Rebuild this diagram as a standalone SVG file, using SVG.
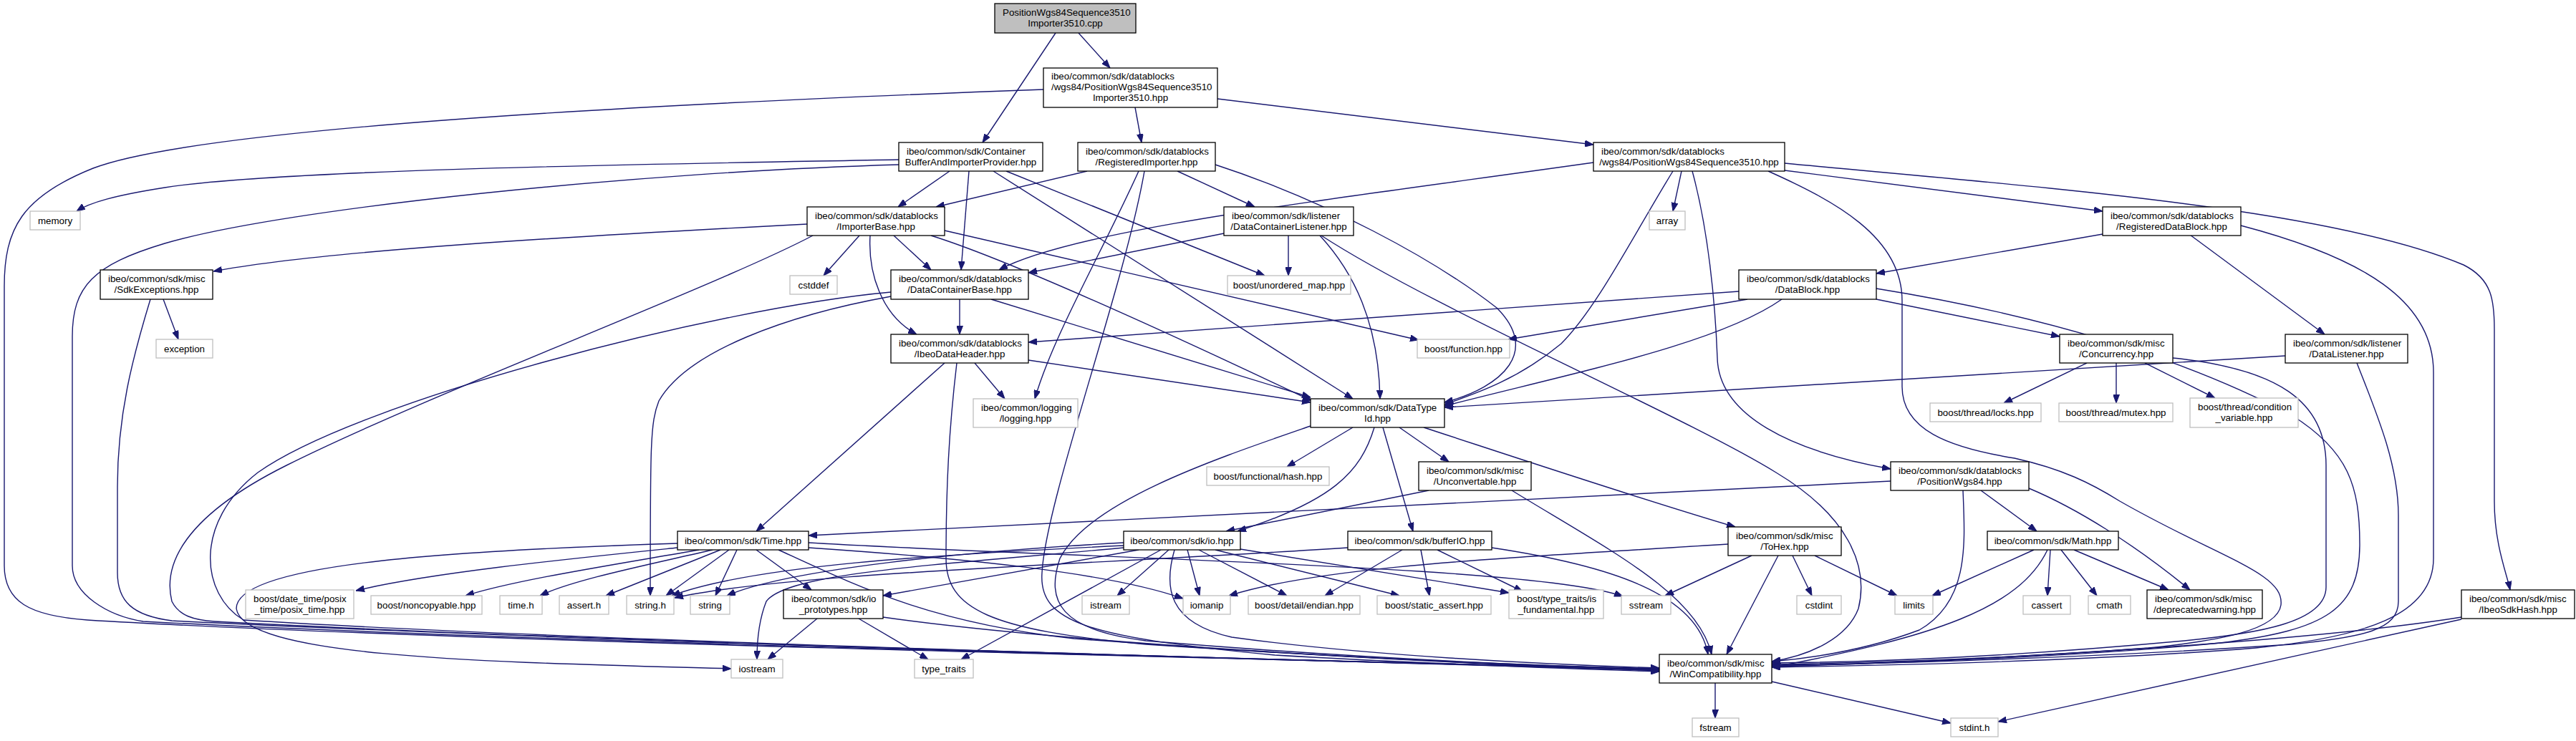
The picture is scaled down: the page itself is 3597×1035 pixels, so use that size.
<svg xmlns="http://www.w3.org/2000/svg" width="3597" height="1035" viewBox="0 0 3597 1035">
<defs>
<style>
rect{fill:#fff;stroke:#000;stroke-width:1.3}
.g rect{stroke:#bfbfbf}
.r rect{fill:#bfbfbf}
text{font-family:"Liberation Sans",Arial,Helvetica,sans-serif;font-size:13.33px;fill:#000}
.c{text-anchor:middle}
#edges path{fill:none;stroke:#191970;stroke-width:1.4;marker-end:url(#a)}
</style>
<marker id="a" markerWidth="12" markerHeight="9" refX="12" refY="4.5" orient="auto" markerUnits="userSpaceOnUse"><path d="M0,0 L12,4.5 L0,9 z" fill="#191970" stroke="#191970" stroke-width="1"/></marker>
</defs>
<rect x="0" y="0" width="3597" height="1035" style="fill:#fff;stroke:none"/>
<g id="edges">
<path d="M1506,46 L1550,95"/>
<path d="M1474,46 L1372,199"/>
<path d="M1457,125 C1100,138 300,170 130,235 C30,275 6,320 6,400 L6,790 C6,840 40,860 122,866 C600,895 1800,922 2317,934"/>
<path d="M1585,150 L1594,199"/>
<path d="M1700,138 L2225,202"/>
<path d="M1255,223 C1000,228 400,235 230,262 C160,273 125,283 107,295"/>
<path d="M1255,230 C900,240 400,290 230,340 C130,370 101,400 101,470 L101,790 C101,830 150,860 200,868 C700,895 1800,922 2317,935"/>
<path d="M1326,239 L1254,289"/>
<path d="M1353,239 L1342,377"/>
<path d="M1387,239 L1889,557"/>
<path d="M1405,239 L1766,385"/>
<path d="M1518,239 L1307,289"/>
<path d="M1644,239 L1752,289"/>
<path d="M1590,239 C1540,350 1470,470 1445,557"/>
<path d="M1598,239 C1570,400 1460,700 1455,800 C1450,870 1520,890 1780,915 C2000,928 2200,934 2317,938"/>
<path d="M1697,230 C1850,280 2000,360 2090,430 C2150,490 2100,540 2017,562"/>
<path d="M2492,238 L2936,295"/>
<path d="M2225,227 C1850,280 1500,320 1395,377"/>
<path d="M2348,239 L2336,295"/>
<path d="M2336,239 C2280,330 2230,430 2180,480 C2120,530 2060,550 2017,565"/>
<path d="M2363,239 C2385,320 2395,420 2398,500 C2400,580 2500,630 2640,655"/>
<path d="M2469,239 C2560,280 2656,330 2656,420 L2656,540 C2656,600 2720,625 2813,640 C2880,655 2920,675 2960,700 C3100,780 3190,800 3185,845 C3180,880 3100,895 3000,905 C2800,920 2600,926 2474,928"/>
<path d="M2492,228 C2850,262 3250,290 3440,370 C3480,390 3483,420 3483,460 L3483,700 C3483,760 3500,800 3505,824"/>
<path d="M2936,327 L2620,382"/>
<path d="M3058,328 L3246,467"/>
<path d="M3129,315 C3300,360 3398,420 3398,520 L3398,780 C3398,860 3300,890 3150,905 C2900,925 2600,930 2474,932"/>
<path d="M2428,407 L1436,478"/>
<path d="M2440,418 L2106,474"/>
<path d="M2488,418 C2400,480 2200,520 2017,567"/>
<path d="M2620,418 L2876,470"/>
<path d="M2620,403 C2850,440 3050,500 3200,580 C3280,630 3295,680 3295,760 C3295,850 3250,880 3100,898 C2900,918 2600,928 2474,930"/>
<path d="M2914,507 L2798,563"/>
<path d="M2955,507 L2955,563"/>
<path d="M2995,507 L3093,556"/>
<path d="M3034,500 C3180,515 3248,560 3248,650 L3248,820 C3248,870 3150,885 3050,895 C2800,918 2600,925 2474,926"/>
<path d="M3191,497 L2017,569"/>
<path d="M3291,507 C3320,580 3349,650 3349,720 L3349,840 C3349,880 3300,890 3200,900 C2900,920 2600,928 2474,929"/>
<path d="M1709,326 L1436,381"/>
<path d="M1799,329 L1799,385"/>
<path d="M1843,329 C1890,380 1925,450 1927,557"/>
<path d="M1845,329 C2000,430 2350,580 2480,660 C2580,720 2610,790 2595,850 C2580,890 2530,915 2474,924"/>
<path d="M1127,313 C800,330 450,350 298,379"/>
<path d="M1135,329 C1000,400 600,550 400,650 C240,730 230,800 240,840 C250,860 270,866 300,868 C800,895 1800,922 2317,935"/>
<path d="M1200,329 L1150,385"/>
<path d="M1248,329 L1300,377"/>
<path d="M1215,329 C1212,380 1230,440 1280,467"/>
<path d="M1300,329 C1400,360 1600,450 1832,560"/>
<path d="M1319,322 L1981,475"/>
<path d="M228,418 L249,474"/>
<path d="M210,418 C185,500 164,580 164,680 L164,800 C164,840 185,860 240,867 C800,895 1800,922 2317,935"/>
<path d="M1384,418 L1830,555"/>
<path d="M1340,418 L1340,467"/>
<path d="M1244,414 C1100,440 960,490 920,560 C908,590 908,620 908,832"/>
<path d="M1244,408 C1000,430 500,560 360,660 C270,730 280,830 340,866 C800,895 1800,922 2317,936"/>
<path d="M1436,503 L1830,562"/>
<path d="M1361,507 L1403,557"/>
<path d="M1319,507 L1056,742"/>
<path d="M1336,507 C1325,600 1321,680 1321,780 C1321,850 1380,880 1600,900 C1900,920 2150,930 2317,934"/>
<path d="M1889,597 L1797,652"/>
<path d="M1954,597 L2023,645"/>
<path d="M1919,597 C1900,660 1860,700 1728,742"/>
<path d="M1931,597 L1973,742"/>
<path d="M1988,597 C2150,650 2300,700 2423,736"/>
<path d="M1830,595 C1700,640 1520,700 1480,780 C1460,840 1480,880 1600,895 C1900,920 2150,930 2317,935"/>
<path d="M1995,685 L1712,742"/>
<path d="M2111,685 C2250,770 2370,830 2390,914"/>
<path d="M2640,672 L1129,748"/>
<path d="M2766,685 L2844,742"/>
<path d="M2741,685 C2744,760 2750,840 2680,880 C2600,910 2520,920 2474,924"/>
<path d="M2833,682 C2900,710 2980,760 3058,824"/>
<path d="M2840,768 L2698,832"/>
<path d="M2863,768 L2859,832"/>
<path d="M2878,768 L2928,832"/>
<path d="M2896,768 L3028,824"/>
<path d="M2859,768 C2820,850 2700,890 2474,932"/>
<path d="M2503,776 L2530,832"/>
<path d="M2534,776 L2649,832"/>
<path d="M2483,776 L2411,914"/>
<path d="M2413,760 C2100,780 1850,790 1716,832"/>
<path d="M2446,776 L2325,832"/>
<path d="M946,765 C800,780 600,800 497,825"/>
<path d="M976,768 C850,790 720,810 650,832"/>
<path d="M995,768 C900,790 800,810 754,832"/>
<path d="M1006,768 L846,832"/>
<path d="M1018,768 L930,832"/>
<path d="M1029,768 L999,832"/>
<path d="M1056,768 L1133,824"/>
<path d="M946,759 C600,770 330,790 330,850 C340,920 700,925 1021,934"/>
<path d="M1129,765 C1350,780 1550,800 1652,836"/>
<path d="M1129,758 C1500,780 2150,790 2266,833"/>
<path d="M1087,768 C1200,820 1300,870 1500,892 C1800,915 2100,930 2317,936"/>
<path d="M1141,864 L1072,921"/>
<path d="M1199,864 L1296,921"/>
<path d="M1233,862 C1500,900 2000,925 2317,937"/>
<path d="M1590,768 L1233,832"/>
<path d="M1569,762 C1300,775 1050,790 938,832"/>
<path d="M1569,758 C1350,770 1100,795 1015,832"/>
<path d="M1632,768 L1560,832"/>
<path d="M1658,768 L1675,832"/>
<path d="M1674,768 L1797,832"/>
<path d="M1697,768 L1954,832"/>
<path d="M1732,767 L2107,828"/>
<path d="M1621,768 L1342,921"/>
<path d="M1640,768 C1625,820 1630,870 1720,890 C1900,915 2150,928 2317,933"/>
<path d="M1569,765 C1300,790 1100,800 1070,840 C1058,870 1057,900 1057,921"/>
<path d="M1958,768 L1850,832"/>
<path d="M1984,768 L1996,832"/>
<path d="M2007,768 L2126,826"/>
<path d="M2083,765 C2250,790 2370,830 2385,914"/>
<path d="M1882,765 C1500,790 1100,800 942,835"/>
<path d="M3437,862 C3200,900 2700,925 2474,931"/>
<path d="M3437,865 L2790,1008"/>
<path d="M2395,954 L2395,1003"/>
<path d="M2474,952 L2724,1010"/>
</g>
<g id="n_root" class="r"><rect x="1389" y="5" width="197" height="41"/><text x="1400" y="21.5">PositionWgs84Sequence3510</text><text class="c" x="1487.5" y="36.5">Importer3510.cpp</text></g>
<g id="n_imp3510hpp"><rect x="1457" y="95" width="243" height="55"/><text x="1468" y="111">ibeo/common/sdk/datablocks</text><text x="1468" y="126">/wgs84/PositionWgs84Sequence3510</text><text class="c" x="1578.5" y="141">Importer3510.hpp</text></g>
<g id="n_containerbuffer"><rect x="1255" y="199" width="201" height="40"/><text x="1266" y="215.5">ibeo/common/sdk/Container</text><text class="c" x="1355.5" y="230.5">BufferAndImporterProvider.hpp</text></g>
<g id="n_registeredimporter"><rect x="1505" y="199" width="192" height="40"/><text x="1516" y="215.5">ibeo/common/sdk/datablocks</text><text class="c" x="1601" y="230.5">/RegisteredImporter.hpp</text></g>
<g id="n_seq3510"><rect x="2225" y="199" width="267" height="40"/><text x="2236" y="215.5">ibeo/common/sdk/datablocks</text><text class="c" x="2358.5" y="230.5">/wgs84/PositionWgs84Sequence3510.hpp</text></g>
<g id="n_importerbase"><rect x="1127" y="289" width="192" height="40"/><text x="1138" y="305.5">ibeo/common/sdk/datablocks</text><text class="c" x="1223" y="320.5">/ImporterBase.hpp</text></g>
<g id="n_dclistener"><rect x="1709" y="289" width="181" height="40"/><text x="1720" y="305.5">ibeo/common/sdk/listener</text><text class="c" x="1799.5" y="320.5">/DataContainerListener.hpp</text></g>
<g id="n_registereddatablock"><rect x="2936" y="289" width="193" height="40"/><text x="2947" y="305.5">ibeo/common/sdk/datablocks</text><text class="c" x="3032.5" y="320.5">/RegisteredDataBlock.hpp</text></g>
<g id="n_memory" class="g"><rect x="42" y="295" width="70" height="26"/><text class="c" x="77" y="312.5">memory</text></g>
<g id="n_array" class="g"><rect x="2303" y="295" width="50" height="26"/><text class="c" x="2328" y="312.5">array</text></g>
<g id="n_sdkexceptions"><rect x="140" y="377" width="157" height="41"/><text x="151" y="393.5">ibeo/common/sdk/misc</text><text class="c" x="218.5" y="408.5">/SdkExceptions.hpp</text></g>
<g id="n_dcbase"><rect x="1244" y="377" width="192" height="41"/><text x="1255" y="393.5">ibeo/common/sdk/datablocks</text><text class="c" x="1340" y="408.5">/DataContainerBase.hpp</text></g>
<g id="n_datablock"><rect x="2428" y="377" width="192" height="41"/><text x="2439" y="393.5">ibeo/common/sdk/datablocks</text><text class="c" x="2524" y="408.5">/DataBlock.hpp</text></g>
<g id="n_cstddef" class="g"><rect x="1103" y="385" width="66" height="26"/><text class="c" x="1136" y="402.5">cstddef</text></g>
<g id="n_unorderedmap" class="g"><rect x="1714" y="385" width="172" height="26"/><text class="c" x="1800" y="402.5">boost/unordered_map.hpp</text></g>
<g id="n_ibeodataheader"><rect x="1244" y="467" width="192" height="40"/><text x="1255" y="483.5">ibeo/common/sdk/datablocks</text><text class="c" x="1340" y="498.5">/IbeoDataHeader.hpp</text></g>
<g id="n_concurrency"><rect x="2876" y="467" width="158" height="40"/><text x="2887" y="483.5">ibeo/common/sdk/misc</text><text class="c" x="2955" y="498.5">/Concurrency.hpp</text></g>
<g id="n_datalistener"><rect x="3191" y="467" width="171" height="40"/><text x="3202" y="483.5">ibeo/common/sdk/listener</text><text class="c" x="3276.5" y="498.5">/DataListener.hpp</text></g>
<g id="n_exception" class="g"><rect x="218" y="474" width="79" height="26"/><text class="c" x="257.5" y="491.5">exception</text></g>
<g id="n_function" class="g"><rect x="1979" y="474" width="129" height="26"/><text class="c" x="2043.5" y="491.5">boost/function.hpp</text></g>
<g id="n_logging" class="g"><rect x="1359" y="557" width="146" height="40"/><text x="1370" y="573.5">ibeo/common/logging</text><text class="c" x="1432" y="588.5">/logging.hpp</text></g>
<g id="n_datatypeid"><rect x="1830" y="557" width="187" height="40"/><text x="1841" y="573.5">ibeo/common/sdk/DataType</text><text class="c" x="1923.5" y="588.5">Id.hpp</text></g>
<g id="n_locks" class="g"><rect x="2695" y="563" width="155" height="26"/><text class="c" x="2772.5" y="580.5">boost/thread/locks.hpp</text></g>
<g id="n_mutex" class="g"><rect x="2875" y="563" width="159" height="26"/><text class="c" x="2954.5" y="580.5">boost/thread/mutex.hpp</text></g>
<g id="n_condvar" class="g"><rect x="3058" y="556" width="151" height="41"/><text x="3069" y="572.5">boost/thread/condition</text><text class="c" x="3133.5" y="587.5">_variable.hpp</text></g>
<g id="n_unconvertable"><rect x="1981" y="645" width="157" height="40"/><text x="1992" y="661.5">ibeo/common/sdk/misc</text><text class="c" x="2059.5" y="676.5">/Unconvertable.hpp</text></g>
<g id="n_positionwgs84"><rect x="2640" y="645" width="193" height="40"/><text x="2651" y="661.5">ibeo/common/sdk/datablocks</text><text class="c" x="2736.5" y="676.5">/PositionWgs84.hpp</text></g>
<g id="n_hash" class="g"><rect x="1685" y="652" width="171" height="26"/><text class="c" x="1770.5" y="669.5">boost/functional/hash.hpp</text></g>
<g id="n_time"><rect x="946" y="742" width="183" height="26"/><text class="c" x="1037.5" y="759.5">ibeo/common/sdk/Time.hpp</text></g>
<g id="n_io"><rect x="1569" y="742" width="163" height="26"/><text class="c" x="1650.5" y="759.5">ibeo/common/sdk/io.hpp</text></g>
<g id="n_bufferio"><rect x="1882" y="742" width="201" height="26"/><text class="c" x="1982.5" y="759.5">ibeo/common/sdk/bufferIO.hpp</text></g>
<g id="n_tohex"><rect x="2413" y="736" width="158" height="40"/><text x="2424" y="752.5">ibeo/common/sdk/misc</text><text class="c" x="2492" y="767.5">/ToHex.hpp</text></g>
<g id="n_math"><rect x="2775" y="742" width="183" height="26"/><text class="c" x="2866.5" y="759.5">ibeo/common/sdk/Math.hpp</text></g>
<g id="n_posixtime" class="g"><rect x="343" y="824" width="151" height="40"/><text x="354" y="840.5">boost/date_time/posix</text><text class="c" x="418.5" y="855.5">_time/posix_time.hpp</text></g>
<g id="n_noncopyable" class="g"><rect x="518" y="832" width="155" height="26"/><text class="c" x="595.5" y="849.5">boost/noncopyable.hpp</text></g>
<g id="n_timeh" class="g"><rect x="698" y="832" width="59" height="26"/><text class="c" x="727.5" y="849.5">time.h</text></g>
<g id="n_asserth" class="g"><rect x="781" y="832" width="69" height="26"/><text class="c" x="815.5" y="849.5">assert.h</text></g>
<g id="n_stringh" class="g"><rect x="875" y="832" width="66" height="26"/><text class="c" x="908" y="849.5">string.h</text></g>
<g id="n_string" class="g"><rect x="964" y="832" width="55" height="26"/><text class="c" x="991.5" y="849.5">string</text></g>
<g id="n_ioprototypes"><rect x="1094" y="824" width="139" height="40"/><text x="1105" y="840.5">ibeo/common/sdk/io</text><text class="c" x="1163.5" y="855.5">_prototypes.hpp</text></g>
<g id="n_istream" class="g"><rect x="1511" y="832" width="66" height="26"/><text class="c" x="1544" y="849.5">istream</text></g>
<g id="n_iomanip" class="g"><rect x="1652" y="832" width="66" height="26"/><text class="c" x="1685" y="849.5">iomanip</text></g>
<g id="n_endian" class="g"><rect x="1743" y="832" width="156" height="26"/><text class="c" x="1821" y="849.5">boost/detail/endian.hpp</text></g>
<g id="n_staticassert" class="g"><rect x="1923" y="832" width="159" height="26"/><text class="c" x="2002.5" y="849.5">boost/static_assert.hpp</text></g>
<g id="n_isfundamental" class="g"><rect x="2107" y="824" width="132" height="40"/><text x="2118" y="840.5">boost/type_traits/is</text><text class="c" x="2173" y="855.5">_fundamental.hpp</text></g>
<g id="n_sstream" class="g"><rect x="2264" y="832" width="69" height="26"/><text class="c" x="2298.5" y="849.5">sstream</text></g>
<g id="n_cstdint" class="g"><rect x="2509" y="832" width="62" height="26"/><text class="c" x="2540" y="849.5">cstdint</text></g>
<g id="n_limits" class="g"><rect x="2646" y="832" width="53" height="26"/><text class="c" x="2672.5" y="849.5">limits</text></g>
<g id="n_cassert" class="g"><rect x="2825" y="832" width="66" height="26"/><text class="c" x="2858" y="849.5">cassert</text></g>
<g id="n_cmath" class="g"><rect x="2916" y="832" width="59" height="26"/><text class="c" x="2945.5" y="849.5">cmath</text></g>
<g id="n_deprecated"><rect x="2998" y="824" width="161" height="40"/><text x="3009" y="840.5">ibeo/common/sdk/misc</text><text class="c" x="3078.5" y="855.5">/deprecatedwarning.hpp</text></g>
<g id="n_ibeosdkhash"><rect x="3437" y="824" width="158" height="40"/><text x="3448" y="840.5">ibeo/common/sdk/misc</text><text class="c" x="3516" y="855.5">/IbeoSdkHash.hpp</text></g>
<g id="n_iostream" class="g"><rect x="1021" y="921" width="72" height="26"/><text class="c" x="1057" y="938.5">iostream</text></g>
<g id="n_typetraits" class="g"><rect x="1277" y="921" width="82" height="26"/><text class="c" x="1318" y="938.5">type_traits</text></g>
<g id="n_wincompat"><rect x="2317" y="914" width="157" height="40"/><text x="2328" y="930.5">ibeo/common/sdk/misc</text><text class="c" x="2395.5" y="945.5">/WinCompatibility.hpp</text></g>
<g id="n_fstream" class="g"><rect x="2363" y="1003" width="65" height="26"/><text class="c" x="2395.5" y="1020.5">fstream</text></g>
<g id="n_stdinth" class="g"><rect x="2724" y="1003" width="66" height="26"/><text class="c" x="2757" y="1020.5">stdint.h</text></g>
</svg>
